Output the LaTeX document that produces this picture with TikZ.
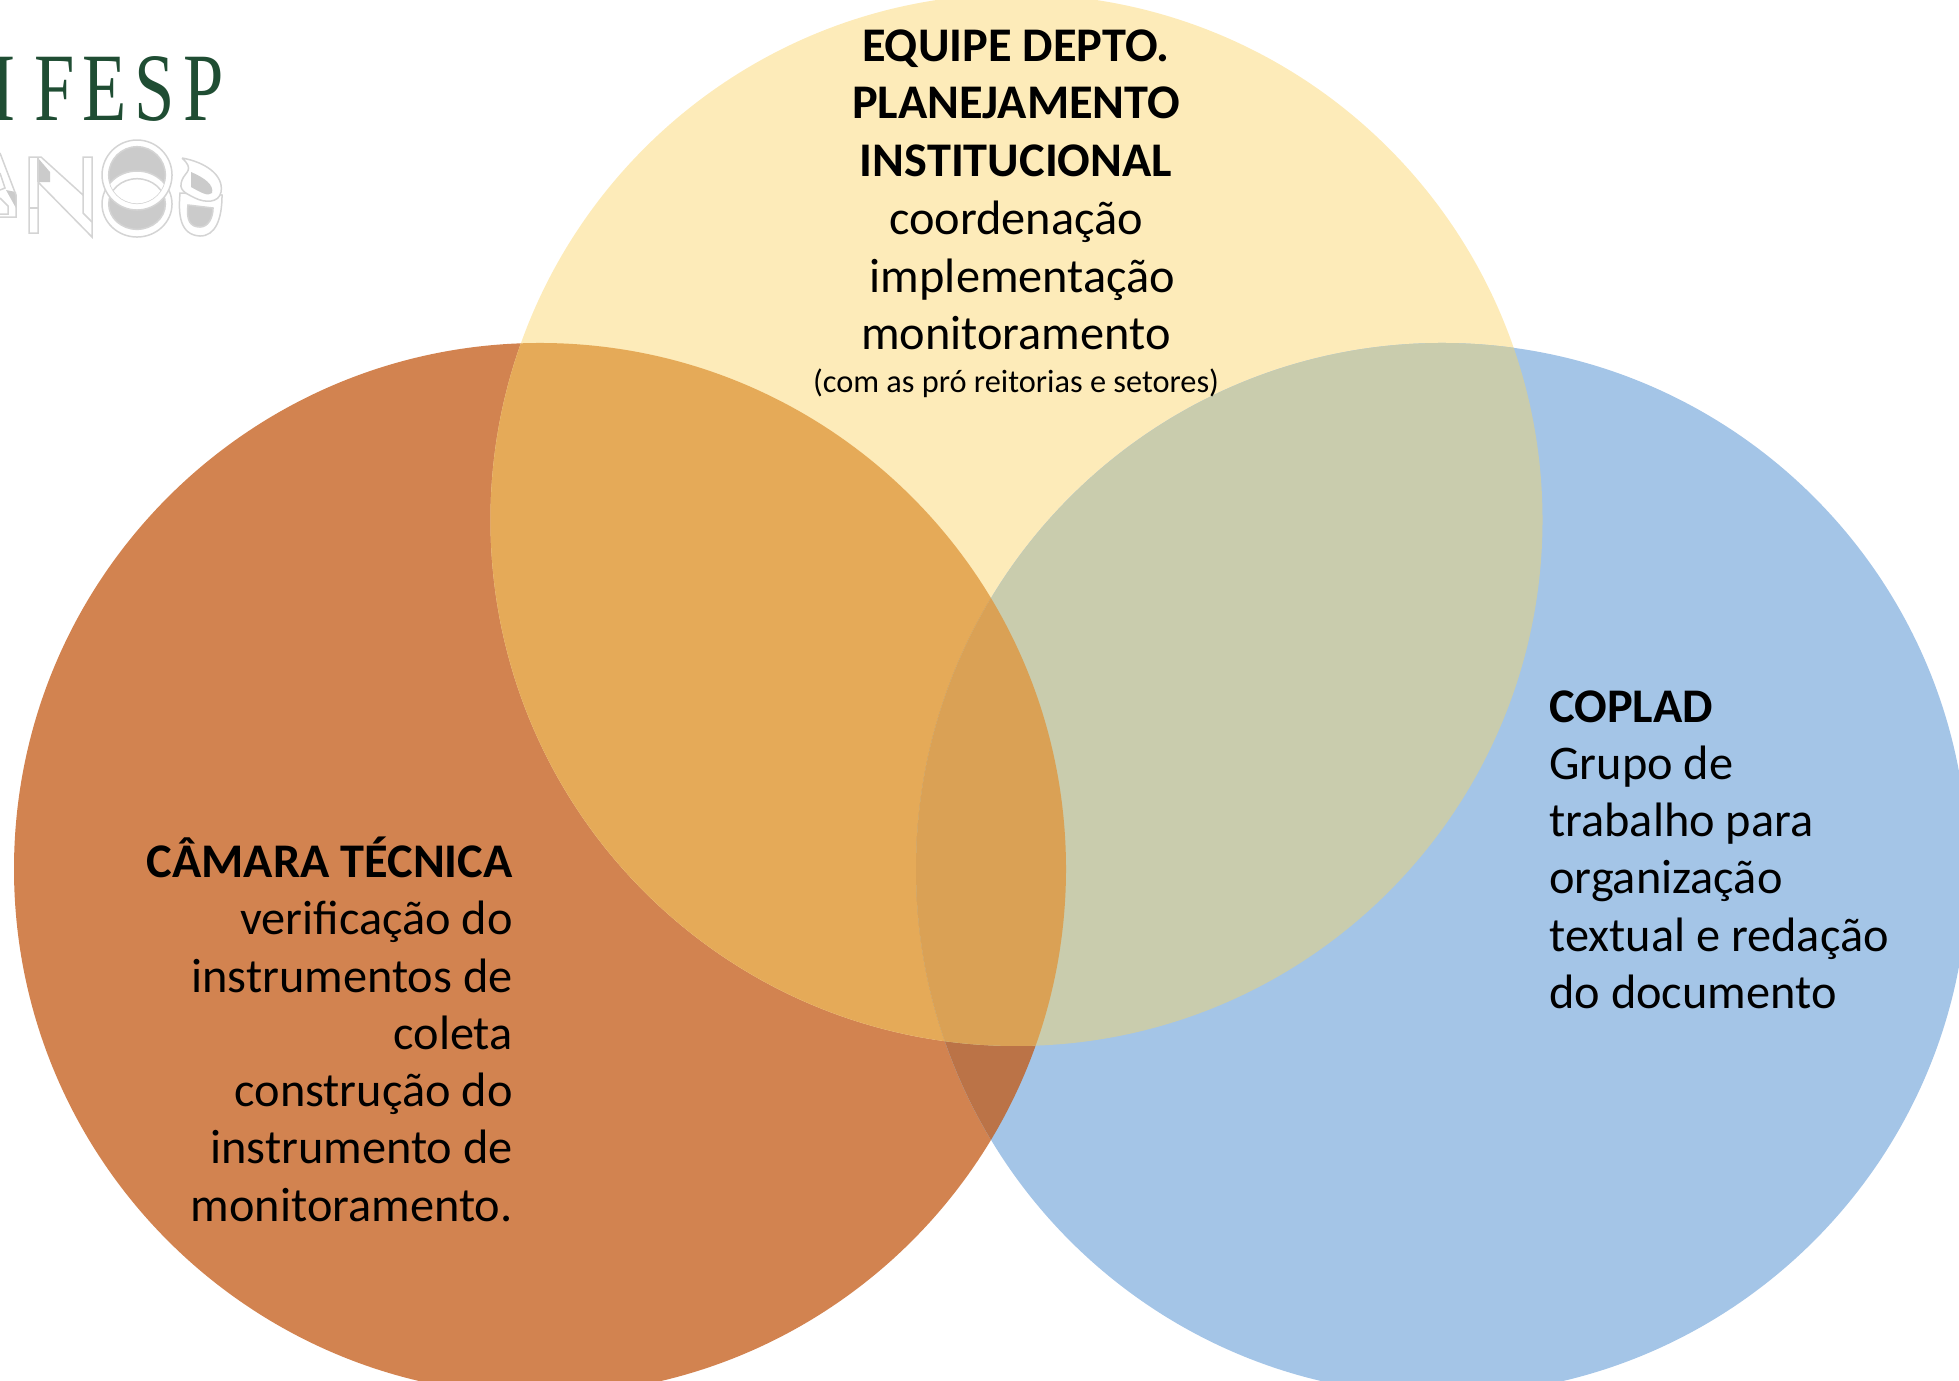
\documentclass[tikz,border=0pt]{standalone}
\usepackage{fontspec}
\setmainfont{Carlito}
\newfontfamily\logofont[LetterSpace=11]{Liberation Serif}
\usepackage{tikz}
\definecolor{ocre}{HTML}{D28350}
\definecolor{creme}{HTML}{FDEBB9}
\definecolor{azul}{HTML}{A4C5E7}
\definecolor{ocrecreme}{HTML}{E5AA58}
\definecolor{cremeazul}{HTML}{C9CCAD}
\definecolor{ocreazul}{HTML}{BB7347}
\definecolor{centro}{HTML}{DAA155}
\definecolor{logoverde}{HTML}{1F4D33}
\definecolor{logocinza}{HTML}{D4D4D4}
\definecolor{logosombra}{HTML}{CBCBCB}
\newcommand\circleL{(10.8cm,10.22cm) circle (10.52cm)}
\newcommand\circleT{(20.33cm,17.2cm) circle (10.52cm)}
\newcommand\circleR{(28.84cm,10.22cm) circle (10.52cm)}
\newcommand\ringTo{(137,175) circle[radius=35]}
\newcommand\ringTi{(137,175) circle[radius=28.3]}
\newcommand\ringLo{(137,204) ellipse[x radius=35,y radius=33]}
\newcommand\ringLi{(137,204) ellipse[x radius=28.3,y radius=25.3]}
\tikzset{
  bodytext/.style={inner sep=0pt,font=\fontsize{27.5}{32.6}\selectfont,text=black},
  logoline/.style={draw=logocinza,line width=0.03cm},
  logoshade/.style={fill=logosombra,draw=none}
}
\begin{document}
\begin{tikzpicture}
\useasboundingbox (0cm,0cm) rectangle (39.18cm,27.6cm);
\clip (0cm,0cm) rectangle (39.18cm,27.6cm);
% circles
\fill[ocre] \circleL;
\fill[creme] \circleT;
\fill[azul] \circleR;
% overlaps
\begin{scope}
\clip \circleL;
\fill[ocrecreme] \circleT;
\fill[ocreazul] \circleR;
\clip \circleT;
\fill[centro] \circleR;
\end{scope}
\begin{scope}
\clip \circleT;
\clip \circleR;
\fill[cremeazul] (0cm,0cm) rectangle (39.18cm,27.6cm);
\clip \circleL;
\fill[centro] (0cm,0cm) rectangle (39.18cm,27.6cm);
\end{scope}
% texts
\node[bodytext,align=center,anchor=north] (equipe) at (20.32cm,27.02cm) {\textbf{EQUIPE DEPTO.}\\[0.01cm]\textbf{PLANEJAMENTO}\\[0.01cm]\textbf{INSTITUCIONAL}\\[0.01cm]coordenação\\[0.01cm]\hspace*{0.27em}implementação\\[0.01cm]monitoramento\\[-0.3cm]{\fontsize{18.4}{21}\selectfont (com as pró reitorias e setores)}};
\node[bodytext,align=right,anchor=north east] (camara) at (10.26cm,10.87cm) {\textbf{CÂMARA TÉCNICA}\\verificação do\\instrumentos de\\coleta\\construção do\\instrumento de\\monitoramento.};
\node[bodytext,align=left,anchor=north west] (coplad) at (30.98cm,13.8cm) {\textbf{COPLAD}\\Grupo de\\trabalho para\\organização\\textual e redação\\do documento};
% logo
\node[anchor=base west,inner sep=0pt,text=logoverde] (ifesp) at (-0.18cm,25.18cm) {\scalebox{0.75}[1]{\fontsize{55}{55}\logofont I\kern0.5cm FESP}};
\begin{scope}[x=0.02cm,y=-0.02cm,shift={(0cm,27.6cm)}]
% A
\fill[logoshade] (6,190) -- (16,192) -- (16,208) -- cycle;
\draw[logoline] (0,153) -- (16,195) -- (16,217) -- (0,217);
\draw[logoline] (0,173) -- (5,188) -- (0,190);
\draw[logoline] (0,198) -- (8,206) -- (8,214) -- (0,214);
% N
\fill[logoshade] (38,158) -- (50,172) -- (50,182) -- (38,182) -- cycle;
\draw[logoline] (29,157) -- (41,157) -- (83,195) -- (83,157) -- (92,157) -- (92,237) -- (38,182) -- (38,233) -- (29,233) -- cycle;
\draw[logoline] (38,157) -- (38,182);
\draw[logoline] (29,208) -- (38,208);
\draw[logoline] (83,195) -- (83,213) -- (92,222);
% O
\filldraw[logoline,fill=white] \ringLo;
\filldraw[logoline,fill=logosombra] \ringLi;
\filldraw[logoline,fill=white] \ringTo;
\filldraw[logoline,fill=logosombra] \ringTi;
\begin{scope}
\clip \ringTi;
\filldraw[logoline,fill=white] \ringLo;
\draw[logoline] \ringLi;
\end{scope}
% S
\filldraw[logoline,fill=white] (180,193) .. controls (178,215) and (180,235) .. (200,236) .. controls (215,236) and (222,220) .. (222,195) -- cycle;
\filldraw[logoline,fill=logosombra] (188,205) .. controls (186,220) and (190,227) .. (200,227) .. controls (208,227) and (213,218) .. (213,208) -- cycle;
\filldraw[logoline,fill=white] (182,158) .. controls (205,162) and (224,175) .. (221,192) .. controls (219,203) and (205,203) .. (195,198) .. controls (185,193) and (178,190) .. (182,180) .. controls (185,172) and (195,170) .. (182,158);
\fill[logoshade] (191,172) .. controls (205,178) and (214,185) .. (212,193) .. controls (208,197) and (200,192) .. (191,187) -- cycle;
\end{scope}
\end{tikzpicture}
\end{document}
